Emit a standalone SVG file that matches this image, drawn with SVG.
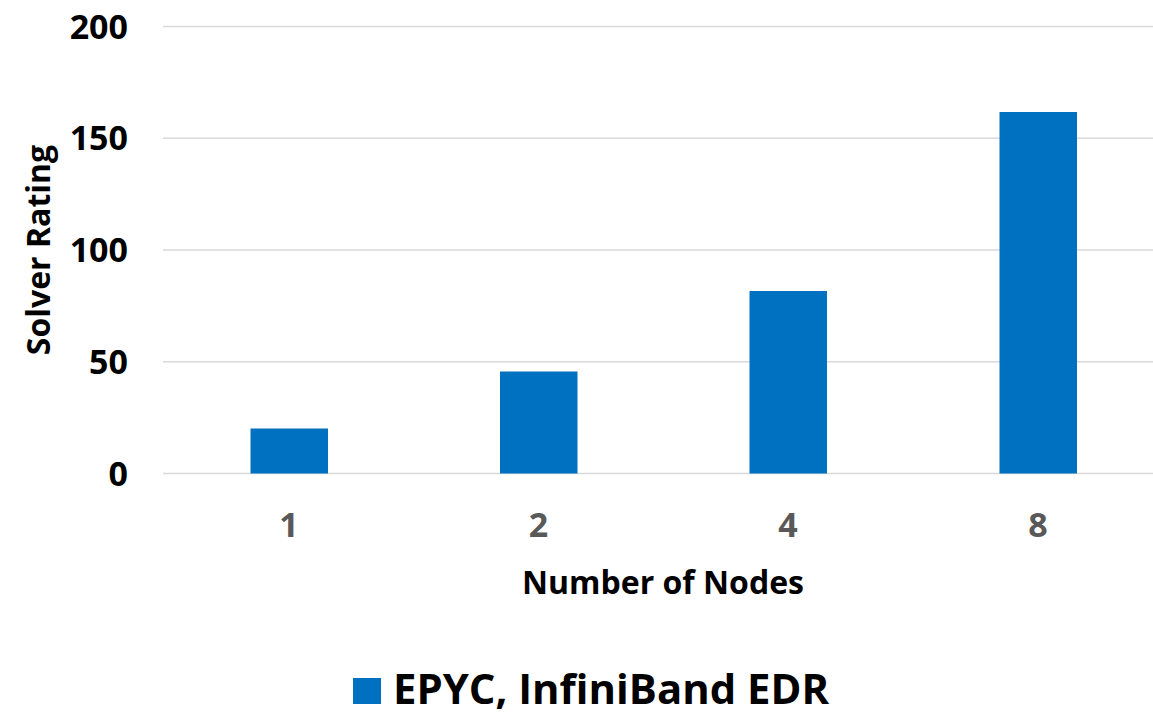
<svg xmlns="http://www.w3.org/2000/svg" width="1153" height="714" viewBox="0 0 1153 714">
  <style>
    .grid { stroke: #d9d9d9; stroke-width: 1.5; }
    .bar { fill: #0070c0; }
    .ytick { font-family: "Open Sans", "Liberation Sans", sans-serif; font-weight: bold; font-size: 34px; fill: #000; text-anchor: end; }
    .xtick { font-family: "Open Sans", "Liberation Sans", sans-serif; font-weight: bold; font-size: 34px; fill: #595959; text-anchor: middle; }
    .title { font-family: "Open Sans", "Liberation Sans", sans-serif; font-weight: bold; font-size: 32px; fill: #000; text-anchor: middle; }
    .legend { font-family: "Open Sans", "Liberation Sans", sans-serif; font-weight: bold; font-size: 42px; fill: #000; }
  </style>
  <rect width="1153" height="714" fill="#fff"/>

  <!-- gridlines -->
  <g id="gridlines">
    <line class="grid" x1="163" y1="26.5" x2="1153" y2="26.5"/>
    <line class="grid" x1="163" y1="138.3" x2="1153" y2="138.3"/>
    <line class="grid" x1="163" y1="250" x2="1153" y2="250"/>
    <line class="grid" x1="163" y1="361.8" x2="1153" y2="361.8"/>
    <line class="grid" x1="163" y1="473.5" x2="1153" y2="473.5"/>
  </g>

  <!-- y axis labels -->
  <g id="y-axis">
    <text class="ytick" x="128" y="38.5">200</text>
    <text class="ytick" x="128" y="150.3">150</text>
    <text class="ytick" x="128" y="262">100</text>
    <text class="ytick" x="128" y="373.8">50</text>
    <text class="ytick" x="128" y="485.5">0</text>
    <text class="title" transform="translate(50 250) rotate(-90)">Solver Rating</text>
  </g>

  <!-- bars -->
  <g id="bars">
    <rect id="bar-1" class="bar" x="250.5" y="428.5" width="77.5" height="45"/>
    <rect id="bar-2" class="bar" x="500" y="371.5" width="77.5" height="102"/>
    <rect id="bar-4" class="bar" x="749.5" y="291" width="77.5" height="182.5"/>
    <rect id="bar-8" class="bar" x="999.5" y="112" width="77.5" height="361.5"/>
  </g>

  <!-- x axis labels -->
  <g id="x-axis">
    <text class="xtick" x="289" y="537">1</text>
    <text class="xtick" x="538.5" y="537">2</text>
    <text class="xtick" x="788" y="537">4</text>
    <text class="xtick" x="1038" y="537">8</text>
    <text class="title" x="663" y="594">Number of Nodes</text>
  </g>

  <!-- legend -->
  <g id="legend">
    <rect class="bar" x="353" y="678" width="28" height="26"/>
    <text class="legend" x="393" y="704" textLength="436" lengthAdjust="spacingAndGlyphs">EPYC, InfiniBand EDR</text>
  </g>
</svg>
